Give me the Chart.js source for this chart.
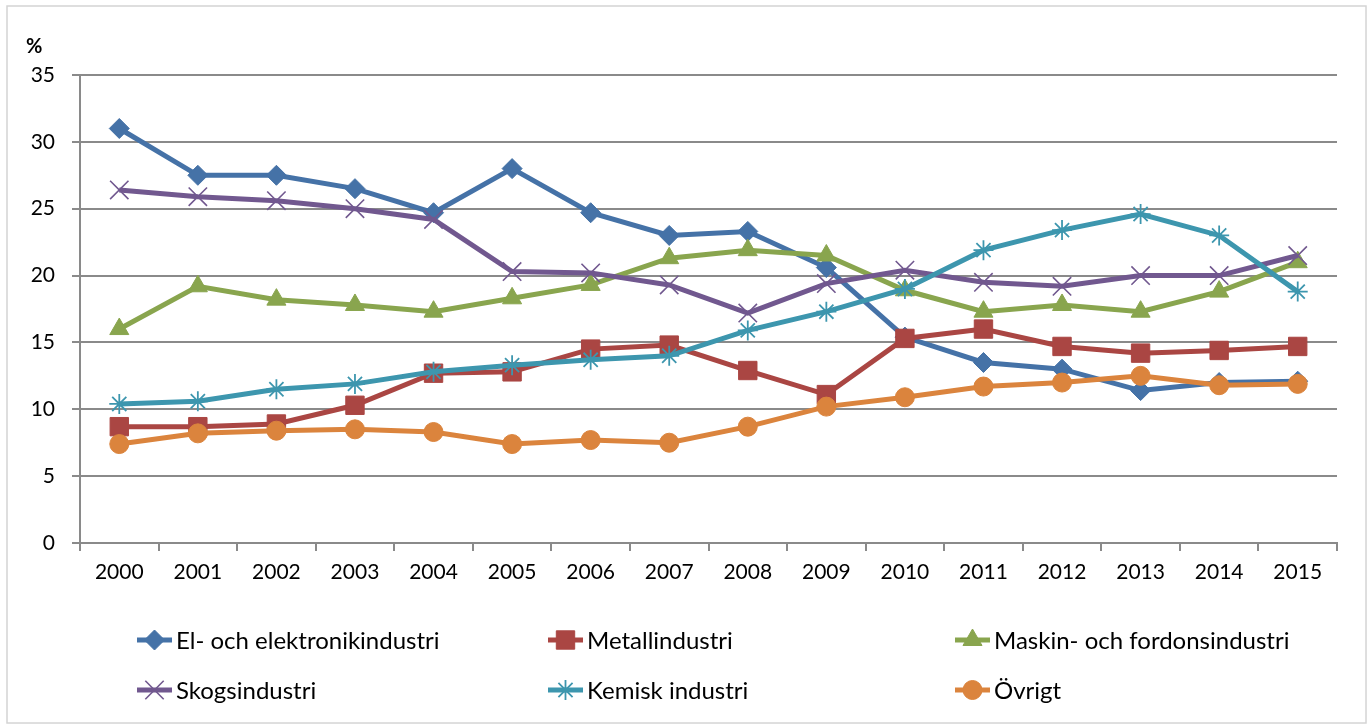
<!DOCTYPE html>
<html lang="sv">
<head>
<meta charset="utf-8">
<title>Andel per bransch</title>
<script src="https://cdn.jsdelivr.net/npm/chart.js@4.4.1/dist/chart.umd.min.js"></script>
<style>
    html, body { margin: 0; padding: 0; background: #ffffff; }
    #contenedor { width: 1371px; height: 727px; }
</style>
</head>
<body>
<div id="contenedor"><canvas id="grafico" width="1371" height="727"></canvas></div>
<script>
// Datos
const anios = ['2000', '2001', '2002', '2003', '2004', '2005', '2006', '2007', '2008', '2009', '2010', '2011', '2012', '2013', '2014', '2015'];
const nombresSeries = ['El- och elektronikindustri', 'Metallindustri', 'Maskin- och fordonsindustri', 'Skogsindustri', 'Kemisk industri', 'Övrigt'];
const elektronik = [31.0, 27.5, 27.5, 26.5, 24.7, 28.0, 24.7, 23.0, 23.3, 20.6, 15.4, 13.5, 13.0, 11.4, 12.0, 12.1];
const metall = [8.7, 8.7, 8.9, 10.3, 12.7, 12.8, 14.5, 14.8, 12.9, 11.1, 15.3, 16.0, 14.7, 14.2, 14.4, 14.7];
const maskin = [16.0, 19.2, 18.2, 17.8, 17.3, 18.3, 19.3, 21.3, 21.9, 21.5, 18.9, 17.3, 17.8, 17.3, 18.8, 21.0];
const skog = [26.4, 25.9, 25.6, 25.0, 24.2, 20.3, 20.2, 19.3, 17.2, 19.4, 20.4, 19.5, 19.2, 20.0, 20.0, 21.5];
const kemisk = [10.4, 10.6, 11.5, 11.9, 12.8, 13.3, 13.7, 14.0, 15.9, 17.3, 19.0, 21.9, 23.4, 24.6, 23.0, 18.8];
const ovrigt = [7.4, 8.2, 8.4, 8.5, 8.3, 7.4, 7.7, 7.5, 8.7, 10.2, 10.9, 11.7, 12.0, 12.5, 11.8, 11.9];
const ticksY = [0, 5, 10, 15, 20, 25, 30, 35];

(function() {
    const fuente = 'Lato, "Open Sans", sans-serif';
    const colorGrilla = '#8a8a8a';

    const estilos = [
        { color: '#4572A7', punto: 'rectRot', radio: 10, borde: 1 },
        { color: '#AA4643', punto: 'rect', radio: 13, borde: 1 },
        { color: '#89A54E', punto: 'triangle', radio: 11, borde: 1 },
        { color: '#71588F', punto: 'crossRot', radio: 13, borde: 1.6 },
        { color: '#3D96AE', punto: 'star', radio: 10, borde: 1.8 },
        { color: '#DB843D', punto: 'circle', radio: 9.5, borde: 1 }
    ];
    const valores = [elektronik, metall, maskin, skog, kemisk, ovrigt];

    const datasets = valores.map((serie, i) => ({
        label: nombresSeries[i],
        data: serie,
        borderColor: estilos[i].color,
        backgroundColor: estilos[i].color,
        borderWidth: 5,
        pointStyle: estilos[i].punto,
        pointRadius: estilos[i].radio,
        pointBorderWidth: estilos[i].borde,
        pointBorderColor: estilos[i].color,
        pointBackgroundColor: estilos[i].color,
        tension: 0,
        // las series posteriores se dibujan encima, como en Excel
        order: valores.length - i
    }));

    // Marco, simbolo % y leyenda en tres columnas
    const pluginDecoracion = {
        id: 'decoracion',
        beforeDraw(chart) {
            const ctx = chart.ctx;
            ctx.save();
            ctx.fillStyle = '#ffffff';
            ctx.fillRect(0, 0, chart.width, chart.height);
            ctx.strokeStyle = '#d4d4d4';
            ctx.lineWidth = 1.5;
            ctx.strokeRect(7, 6, 1359, 717);
            ctx.restore();
        },
        afterDraw(chart) {
            const ctx = chart.ctx;
            ctx.save();
            ctx.fillStyle = '#000000';
            ctx.font = 'bold 20px ' + fuente;
            ctx.textAlign = 'left';
            ctx.textBaseline = 'middle';
            ctx.fillText('%', 26, 47);

            const columnas = [137, 548, 955];
            const filas = [640, 690];
            ctx.font = '24px ' + fuente;
            chart.data.datasets.forEach((ds, i) => {
                const x = columnas[i % 3];
                const y = filas[Math.floor(i / 3)];
                ctx.strokeStyle = ds.borderColor;
                ctx.lineWidth = 5;
                ctx.beginPath();
                ctx.moveTo(x, y);
                ctx.lineTo(x + 35, y);
                ctx.stroke();
                ctx.fillStyle = ds.backgroundColor;
                ctx.strokeStyle = ds.borderColor;
                ctx.lineWidth = ds.pointBorderWidth;
                Chart.helpers.drawPoint(ctx, {
                    pointStyle: ds.pointStyle,
                    radius: ds.pointRadius,
                    rotation: 0,
                    borderWidth: ds.pointBorderWidth
                }, x + 17.5, y);
                ctx.fillStyle = '#000000';
                ctx.fillText(ds.label, x + 39, y + 1);
            });
            ctx.restore();
        }
    };

    function crearGrafico() {
        const ctx = document.getElementById('grafico');
        new Chart(ctx, {
            type: 'line',
            data: { labels: anios, datasets: datasets },
            plugins: [pluginDecoracion],
            options: {
                responsive: false,
                animation: false,
                layout: { padding: { left: 10, right: 34, top: 75, bottom: 124 } },
                plugins: {
                    legend: { display: false },
                    tooltip: { enabled: false }
                },
                scales: {
                    x: {
                        offset: true,
                        grid: {
                            offset: true,
                            drawOnChartArea: false,
                            drawTicks: true,
                            tickLength: 8,
                            color: colorGrilla,
                            lineWidth: 2
                        },
                        border: { color: colorGrilla, width: 2 },
                        ticks: {
                            color: '#000000',
                            font: { family: fuente, size: 21 },
                            padding: 9,
                            autoSkip: false,
                            maxRotation: 0
                        },
                        afterFit(scale) { scale.height = 60; }
                    },
                    y: {
                        min: 0,
                        max: 35,
                        afterBuildTicks(scale) {
                            scale.ticks = ticksY.map(v => ({ value: v }));
                        },
                        grid: {
                            color: colorGrilla,
                            lineWidth: 2,
                            tickLength: 8
                        },
                        border: { color: colorGrilla, width: 2 },
                        ticks: {
                            color: '#000000',
                            font: { family: fuente, size: 21 },
                            padding: 17
                        },
                        afterFit(scale) { scale.width = 70; }
                    }
                }
            }
        });
    }

    if (document.readyState === 'loading') {
        document.addEventListener('DOMContentLoaded', crearGrafico);
    } else {
        crearGrafico();
    }
})();
</script>
</body>
</html>
